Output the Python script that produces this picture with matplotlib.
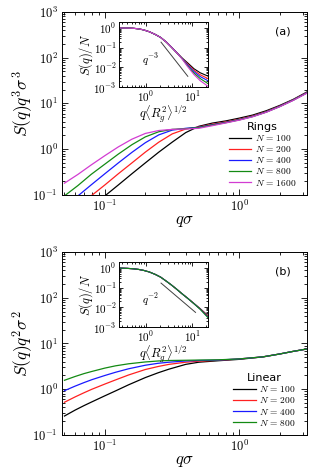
import numpy as np
import matplotlib
matplotlib.use("Agg")
import matplotlib.pyplot as plt
from matplotlib import ticker

plt.rcParams['mathtext.fontset'] = 'cm'
plt.rcParams['font.family'] = ['DejaVu Sans']

# ---------------- data ----------------
q_main = [0.05, 0.063, 0.079, 0.1, 0.126, 0.159, 0.2, 0.252, 0.317, 0.4, 0.5,
          0.63, 0.8, 1.0, 1.26, 1.59, 2.0, 2.52, 3.2]

ring_labels = ["100", "200", "400", "800", "1600"]
ring_N100 = [0.018, 0.032, 0.055, 0.095, 0.165, 0.29, 0.50, 0.86, 1.42, 2.3, 3.15,
             3.7, 4.15, 4.75, 5.55, 6.9, 9.0, 12.2, 17.8]
ring_N200 = [0.032, 0.055, 0.095, 0.165, 0.29, 0.50, 0.86, 1.42, 2.15, 2.75, 3.05,
             3.5, 3.95, 4.5, 5.3, 6.6, 8.7, 11.9, 17.4]
ring_N400 = [0.055, 0.095, 0.165, 0.29, 0.50, 0.85, 1.38, 2.05, 2.6, 2.85, 3.0,
             3.4, 3.85, 4.4, 5.2, 6.5, 8.6, 11.8, 17.2]
ring_N800 = [0.095, 0.16, 0.28, 0.47, 0.78, 1.25, 1.85, 2.4, 2.7, 2.8, 2.95,
             3.35, 3.8, 4.35, 5.15, 6.45, 8.5, 11.7, 17.0]
ring_N1600 = [0.18, 0.28, 0.45, 0.72, 1.12, 1.65, 2.2, 2.55, 2.7, 2.75, 2.85,
              3.25, 3.75, 4.3, 5.1, 6.4, 8.45, 11.6, 16.8]

lin_q = [0.05, 0.06, 0.07, 0.08, 0.1, 0.12, 0.15, 0.2, 0.25, 0.3, 0.4, 0.5, 0.7,
         1.0, 1.5, 2.0, 2.5, 3.2]
lin_labels = ["100", "200", "400", "800"]
lin_N100 = [0.26, 0.35, 0.44, 0.53, 0.72, 0.92, 1.25, 1.8, 2.3, 2.75, 3.5, 3.9, 4.2,
            4.5, 5.1, 5.9, 6.7, 7.6]
lin_N200 = [0.52, 0.68, 0.84, 1.0, 1.3, 1.6, 2.05, 2.7, 3.15, 3.5, 3.9, 4.1, 4.3,
            4.6, 5.1, 5.9, 6.7, 7.6]
lin_N400 = [0.93, 1.17, 1.4, 1.62, 2.0, 2.35, 2.8, 3.35, 3.7, 3.9, 4.15, 4.25, 4.35,
            4.6, 5.1, 5.9, 6.7, 7.6]
lin_N800 = [1.57, 1.9, 2.2, 2.45, 2.9, 3.25, 3.6, 3.95, 4.15, 4.25, 4.3, 4.35, 4.4,
            4.6, 5.1, 5.9, 6.7, 7.6]

# inset data: S(q)/N vs q<Rg^2>^(1/2)
x_in = [0.27, 0.4, 0.55, 0.7, 0.9, 1.2, 1.6, 2.1, 2.8, 3.6, 4.6, 6.0, 8.0, 11.0, 15.0, 22.0]
ring_in_N100 = [1.0, 0.99, 0.96, 0.9, 0.8, 0.64, 0.47, 0.33, 0.19, 0.105, 0.058, 0.031, 0.017, 0.0085, 0.0053, 0.0036]
ring_in_N200 = [1.0, 0.99, 0.96, 0.9, 0.8, 0.64, 0.47, 0.33, 0.19, 0.105, 0.058, 0.030, 0.015, 0.0071, 0.0042, 0.0027]
ring_in_N400 = [1.0, 0.99, 0.96, 0.9, 0.8, 0.64, 0.47, 0.33, 0.19, 0.105, 0.058, 0.0295, 0.0135, 0.0061, 0.0034, 0.0021]
ring_in_N800 = [1.0, 0.99, 0.96, 0.9, 0.8, 0.64, 0.47, 0.33, 0.19, 0.105, 0.057, 0.029, 0.012, 0.0051, 0.0027, 0.0015]
ring_in_N1600 = [1.0, 0.99, 0.96, 0.9, 0.8, 0.64, 0.47, 0.33, 0.19, 0.105, 0.057, 0.028, 0.011, 0.0043, 0.0021, 0.0011]

lin_in_N100 = [0.98, 0.95, 0.9, 0.84, 0.75, 0.62, 0.47, 0.34, 0.21, 0.135, 0.085, 0.05, 0.029, 0.0157, 0.0085, 0.0038]
lin_in_N200 = [0.98, 0.95, 0.9, 0.84, 0.75, 0.62, 0.47, 0.34, 0.21, 0.135, 0.085, 0.05, 0.029, 0.0155, 0.0083, 0.0035]
lin_in_N400 = [0.98, 0.95, 0.9, 0.84, 0.75, 0.62, 0.47, 0.34, 0.21, 0.135, 0.085, 0.05, 0.029, 0.0153, 0.0081, 0.0032]
lin_in_N800 = [0.98, 0.95, 0.9, 0.84, 0.75, 0.62, 0.47, 0.34, 0.21, 0.135, 0.085, 0.05, 0.029, 0.0152, 0.0079, 0.0030]

guide3_x = [2.14, 8.1]
guide3_y = [0.19, 0.0035]
guide2_x = [2.14, 11.9]
guide2_y = [0.17, 0.0055]

colors = ['black', '#ff2020', '#1a1aff', '#138a13', '#d23cd2']

# ---------------- figure ----------------
fig = plt.figure(figsize=(3.15, 4.73), dpi=100)


def fmt_pow(v, p):
    e = int(np.round(np.log10(v)))
    return r'$10^{%d}$' % e


def style_axes(ax, size, minor_len, major_len, pad):
    ax.set_xscale('log')
    ax.set_yscale('log')
    ax.tick_params(which='both', direction='in', top=True, right=True, labelsize=size,
                   width=0.6, pad=pad)
    ax.tick_params(which='major', length=major_len)
    ax.tick_params(which='minor', length=minor_len)
    ax.xaxis.set_major_locator(ticker.LogLocator(base=10, numticks=20))
    ax.yaxis.set_major_locator(ticker.LogLocator(base=10, numticks=20))
    ax.xaxis.set_minor_locator(ticker.LogLocator(base=10, subs=np.arange(2, 10), numticks=20))
    ax.yaxis.set_minor_locator(ticker.LogLocator(base=10, subs=np.arange(2, 10), numticks=20))
    ax.xaxis.set_minor_formatter(ticker.NullFormatter())
    ax.yaxis.set_minor_formatter(ticker.NullFormatter())
    ax.xaxis.set_major_formatter(ticker.FuncFormatter(fmt_pow))
    ax.yaxis.set_major_formatter(ticker.FuncFormatter(fmt_pow))
    for s in ax.spines.values():
        s.set_linewidth(0.7)


def add_legend(ax, title):
    leg = ax.legend(loc='lower right', title=title, frameon=False, fontsize=6.8,
                    title_fontsize=8, handlelength=2.4, labelspacing=0.12,
                    handletextpad=0.35, borderaxespad=0.0, borderpad=0.0,
                    bbox_to_anchor=(0.955, 0.04))
    leg._legend_box.align = 'center'
    return leg


# ---- panel (a)
axA = fig.add_axes([0.197, 0.588, 0.778, 0.387])
ring_main = [ring_N100, ring_N200, ring_N400, ring_N800, ring_N1600]
for vals, lab, c in zip(ring_main, ring_labels, colors):
    axA.plot(q_main, vals, color=c, lw=0.9, label=r'$N\,=\,%s$' % lab)
style_axes(axA, 9, 2, 4, 3)
axA.set_xlim(0.048, 3.2)
axA.set_ylim(0.1, 1000)
axA.set_xlabel(r'$q\sigma$', fontsize=12, labelpad=-2)
axA.set_ylabel(r'$S(q)q^3\sigma^3$', fontsize=12.5, labelpad=-2)
axA.text(0.9, 0.895, '(a)', transform=axA.transAxes, fontsize=8, ha='center', va='center')
add_legend(axA, 'Rings')

insA = fig.add_axes([0.379, 0.816, 0.281, 0.1374])
ring_in = [ring_in_N100, ring_in_N200, ring_in_N400, ring_in_N800, ring_in_N1600]
for vals, c in zip(ring_in, colors):
    insA.plot(x_in, vals, color=c, lw=0.8)
insA.plot(guide3_x, guide3_y, color='#404040', lw=0.7)
insA.text(1.25, 0.024, r'$q^{-3}$', fontsize=8, ha='center', va='center')
style_axes(insA, 8, 1.5, 3, 2)
insA.set_xlim(0.27, 22)
insA.set_ylim(1e-3, 2)
insA.set_xlabel(r'$q\langle R_g^2\rangle^{1/2}$', fontsize=9, labelpad=-1)
insA.set_ylabel(r'$S(q)/N$', fontsize=9, labelpad=-1)

# ---- panel (b)
axB = fig.add_axes([0.197, 0.0803, 0.778, 0.387])
lin_main = [lin_N100, lin_N200, lin_N400, lin_N800]
for vals, lab, c in zip(lin_main, lin_labels, colors):
    axB.plot(lin_q, vals, color=c, lw=0.9, label=r'$N\,=\,%s$' % lab)
style_axes(axB, 9, 2, 4, 3)
axB.set_xlim(0.048, 3.2)
axB.set_ylim(0.1, 1000)
axB.set_xlabel(r'$q\sigma$', fontsize=12, labelpad=-2)
axB.set_ylabel(r'$S(q)q^2\sigma^2$', fontsize=12.5, labelpad=-2)
axB.text(0.9, 0.895, '(b)', transform=axB.transAxes, fontsize=8, ha='center', va='center')
add_legend(axB, 'Linear')

insB = fig.add_axes([0.379, 0.3087, 0.281, 0.1374])
lin_in = [lin_in_N100, lin_in_N200, lin_in_N400, lin_in_N800]
for vals, c in zip(lin_in, colors):
    insB.plot(x_in, vals, color=c, lw=0.8)
insB.plot(guide2_x, guide2_y, color='#404040', lw=0.7)
insB.text(1.25, 0.024, r'$q^{-2}$', fontsize=8, ha='center', va='center')
style_axes(insB, 8, 1.5, 3, 2)
insB.set_xlim(0.27, 22)
insB.set_ylim(1e-3, 2)
insB.set_xlabel(r'$q\langle R_g^2\rangle^{1/2}$', fontsize=9, labelpad=-1)
insB.set_ylabel(r'$S(q)/N$', fontsize=9, labelpad=-1)

fig.savefig('out.png', dpi=100)
